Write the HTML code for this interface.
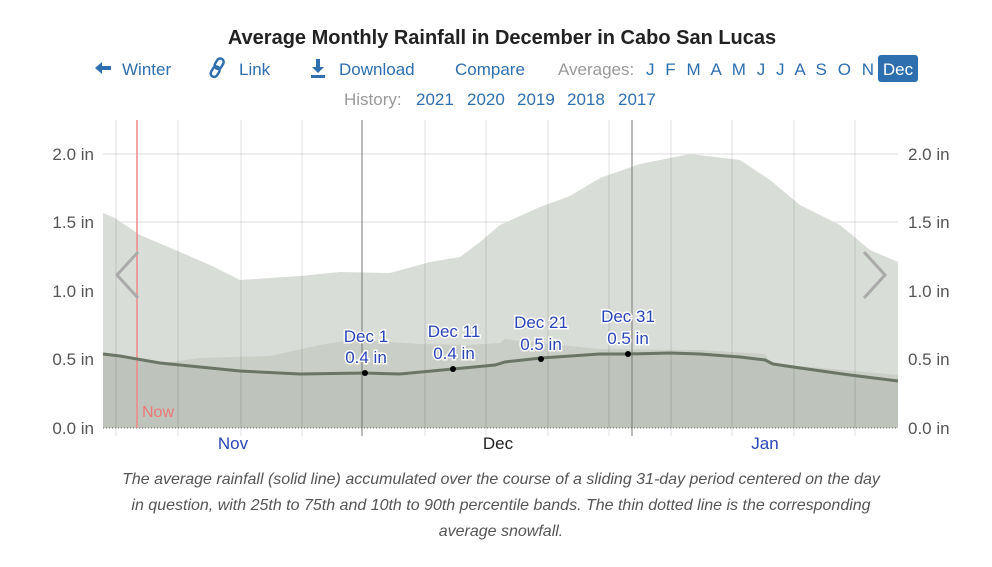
<!DOCTYPE html><html><head><style>
body{margin:0;width:992px;height:562px;background:#fff;font-family:"Liberation Sans",sans-serif;overflow:hidden}
</style></head><body>
<svg width="992" height="562" xmlns="http://www.w3.org/2000/svg" font-family="Liberation Sans, sans-serif">
<text x="502" y="44" text-anchor="middle" font-size="20" fill="#222" font-weight="bold">Average Monthly Rainfall in December in Cabo San Lucas</text>
<g font-size="17" fill="#2e6fb0">
<path d="M95 68 l7 -6 v4 h9 v4 h-9 v4z" fill="#2e6fb0"/>
<text x="122" y="75">Winter</text>
<g fill="none" stroke="#2e6fb0" stroke-width="2.5"><rect x="216" y="58" width="7" height="11" rx="3.5" transform="rotate(30 219 63)"/><rect x="212" y="66" width="7" height="11" rx="3.5" transform="rotate(30 215 71)"/></g>
<text x="239" y="75">Link</text>
<path d="M316 59 h4 v8 h4 l-6 6 -6-6 h4z M311 75 h14 v3 h-14z" fill="#2e6fb0"/>
<text x="339" y="75">Download</text>
<text x="455" y="75">Compare</text>
<text x="558" y="75" fill="#999">Averages:</text>
<text x="646" y="75" textLength="228" lengthAdjust="spacing">J F M A M J J A S O N</text>
<rect x="878" y="55" width="40" height="27" rx="3" fill="#2e6fb0"/>
<text x="898" y="75" fill="#fff" text-anchor="middle">Dec</text>
<text x="344" y="105" fill="#999">History:</text>
<text x="416" y="105">2021</text><text x="467" y="105">2020</text><text x="517" y="105">2019</text><text x="567" y="105">2018</text><text x="618" y="105">2017</text>
</g>
<g stroke="#ddd" stroke-width="1">
<line x1="103" y1="154" x2="898" y2="154"/><line x1="103" y1="222" x2="898" y2="222"/><line x1="103" y1="291" x2="898" y2="291"/><line x1="103" y1="359" x2="898" y2="359"/>
</g>
<path d="M103 428 L103 213 115 218 140 235 180 252 210 265 240 280 270 278 300 276 340 272 390 273 430 262 460 257 480 242 500 225 540 207 570 196 600 178 640 164 690 154 740 160 770 180 800 205 840 225 870 250 898 262 898 428Z" fill="#d9ddd7"/>
<path d="M103 428 L103 360 140 366 200 358 270 356 320 345 350 340 390 342 420 344 470 345 500 343 505 339 520 341 560 345 600 349 700 350 765 354 770 362 800 366 898 375 898 428Z" fill="#c9cec6"/>
<path d="M103 428 L103 354 120 356 160 363 240 371 300 374 365 373 400 374 453 369 495 365 505 362 541 358 600 354 628 354 670 353 700 354 740 357 765 360 773 364 800 368 850 375 898 381 898 428Z" fill="#bec4bb"/>
<g stroke="#000" stroke-opacity="0.12">
<line x1="116" y1="120" x2="116" y2="436"/><line x1="178" y1="120" x2="178" y2="436"/><line x1="241" y1="120" x2="241" y2="436"/><line x1="302" y1="120" x2="302" y2="436"/><line x1="425" y1="120" x2="425" y2="436"/><line x1="486" y1="120" x2="486" y2="436"/><line x1="548" y1="120" x2="548" y2="436"/><line x1="609" y1="120" x2="609" y2="436"/><line x1="671" y1="120" x2="671" y2="436"/><line x1="732" y1="120" x2="732" y2="436"/><line x1="794" y1="120" x2="794" y2="436"/><line x1="855" y1="120" x2="855" y2="436"/>
</g>
<line x1="362" y1="120" x2="362" y2="436" stroke="#777"/>
<line x1="632" y1="120" x2="632" y2="436" stroke="#777"/>
<line x1="103" y1="428" x2="898" y2="428" stroke="#666" stroke-dasharray="1,2"/>
<line x1="137" y1="120" x2="137" y2="428" stroke="#e88" stroke-width="1.5"/>
<text x="142" y="417" font-size="16" fill="#e77">Now</text>
<path d="M103 354 L120 356 160 363 240 371 300 374 365 373 400 374 453 369 495 365 505 362 541 358 600 354 628 354 670 353 700 354 740 357 765 360 773 364 800 368 850 375 898 381" fill="none" stroke="#6b7566" stroke-width="3"/>
<g fill="#000"><circle cx="365" cy="373" r="3"/><circle cx="453" cy="369" r="3"/><circle cx="541" cy="359" r="3"/><circle cx="628" cy="354" r="3"/></g>
<g font-size="17" fill="#2a44b8" text-anchor="middle" stroke="#fff" stroke-width="3" paint-order="stroke">
<text x="366" y="342">Dec 1</text><text x="366" y="363">0.4 in</text>
<text x="454" y="337">Dec 11</text><text x="454" y="359">0.4 in</text>
<text x="541" y="328">Dec 21</text><text x="541" y="350">0.5 in</text>
<text x="628" y="322">Dec 31</text><text x="628" y="344">0.5 in</text>
</g>
<path d="M138 252 L117 275 138 298" fill="none" stroke="#aaa" stroke-width="3"/>
<path d="M864 252 L885 275 864 298" fill="none" stroke="#aaa" stroke-width="3"/>
<g font-size="17" fill="#555">
<text x="94" y="160" text-anchor="end">2.0 in</text><text x="94" y="228" text-anchor="end">1.5 in</text><text x="94" y="297" text-anchor="end">1.0 in</text><text x="94" y="365" text-anchor="end">0.5 in</text><text x="94" y="434" text-anchor="end">0.0 in</text>
<text x="908" y="160">2.0 in</text><text x="908" y="228">1.5 in</text><text x="908" y="297">1.0 in</text><text x="908" y="365">0.5 in</text><text x="908" y="434">0.0 in</text>
</g>
<g font-size="17" text-anchor="middle">
<text x="233" y="449" fill="#2a44b8">Nov</text><text x="498" y="449" fill="#222">Dec</text><text x="765" y="449" fill="#2a44b8">Jan</text>
</g>
<g font-size="16" fill="#555" font-style="italic" text-anchor="middle">
<text x="501" y="484">The average rainfall (solid line) accumulated over the course of a sliding 31-day period centered on the day</text>
<text x="501" y="510">in question, with 25th to 75th and 10th to 90th percentile bands. The thin dotted line is the corresponding</text>
<text x="501" y="536">average snowfall.</text>
</g>
</svg>
</body></html>
